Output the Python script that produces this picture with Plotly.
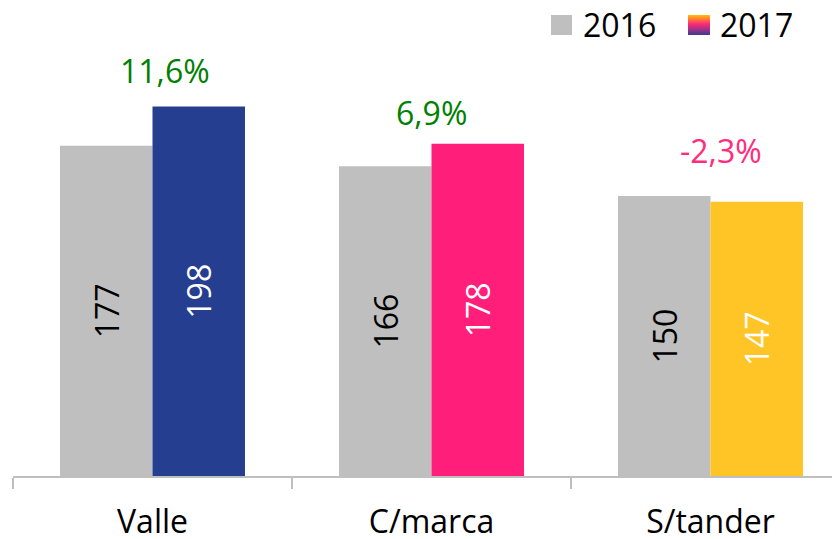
import base64
import plotly.graph_objects as go

categories = ["Valle", "C/marca", "S/tander"]
values_2016 = [177, 166, 150]
values_2017 = [198, 178, 147]
pct_labels = ["11,6%", "6,9%", "-2,3%"]
series_names = ["2016", "2017"]

FONT = "Open Sans"
FS = 32
GRAY = "#BFBFBF"
colors_2017 = ["#253E8F", "#FF1F7B", "#FFC425"]
pct_colors = ["#008000", "#008000", "#FF2D7D"]
pct_xshift = [12, 0, 10]
pct_yshift = [36, 31, 51]

# the page body adds an 8px offset; work in screen pixels and subtract it
OFF = 8
W, H = 840 - OFF, 539 - OFF
ML = 13 - OFF
MT = 0
AXIS_Y = 476 - OFF  # screen 476
MB = H - AXIS_Y
MR = 0
PW, PH = W - ML - MR, H - MT - MB
CAT_PX = 279.0
YMAX = PH / 1.866


def px(x):  # screen x -> paper
    return (x - OFF - ML) / PW


def py(y):  # screen y -> paper
    return (AXIS_Y - (y - OFF)) / PH


fig = go.Figure()
fig.add_trace(go.Bar(
    x=categories, y=values_2016, name=series_names[0],
    marker=dict(color=GRAY, line=dict(width=0)),
    text=[str(v) for v in values_2016], textposition="inside",
    insidetextanchor="middle", textangle=-90,
    textfont=dict(family=FONT, size=FS, color="black"),
    hoverinfo="skip", showlegend=False,
))
fig.add_trace(go.Bar(
    x=categories, y=values_2017, name=series_names[1],
    marker=dict(color=colors_2017, line=dict(width=0)),
    text=[str(v) for v in values_2017], textposition="inside",
    insidetextanchor="middle", textangle=-90,
    textfont=dict(family=FONT, size=FS, color="white"),
    hoverinfo="skip", showlegend=False,
))

annotations = []
for i, c in enumerate(categories):
    annotations.append(dict(
        x=c, y=values_2017[i], xref="x", yref="y", text=pct_labels[i],
        showarrow=False, xanchor="center", yanchor="middle",
        xshift=pct_xshift[i], yshift=pct_yshift[i],
        font=dict(family=FONT, size=FS, color=pct_colors[i]),
    ))

# legend (manual)
annotations.append(dict(x=px(581), y=py(25), xref="paper", yref="paper",
                        text=series_names[0], showarrow=False, xanchor="left",
                        yanchor="middle", font=dict(family=FONT, size=FS, color="black")))
annotations.append(dict(x=px(718), y=py(25), xref="paper", yref="paper",
                        text=series_names[1], showarrow=False, xanchor="left",
                        yanchor="middle", font=dict(family=FONT, size=FS, color="black")))

shapes = [dict(type="rect", xref="paper", yref="paper",
               x0=px(551), x1=px(572), y0=py(35), y1=py(15),
               fillcolor=GRAY, line=dict(width=0))]

svg = ("<svg xmlns='http://www.w3.org/2000/svg' width='22' height='20'>"
       "<defs><linearGradient id='g' x1='0' y1='0' x2='0' y2='1'>"
       "<stop offset='0' stop-color='#FFC000'/>"
       "<stop offset='0.45' stop-color='#FF2A78'/>"
       "<stop offset='1' stop-color='#3E3A94'/>"
       "</linearGradient></defs><rect width='22' height='20' fill='url(#g)'/></svg>")
src = "data:image/svg+xml;base64," + base64.b64encode(svg.encode()).decode()
images = [dict(source=src, xref="paper", yref="paper", x=px(688), y=py(15),
               sizex=px(710) - px(688), sizey=py(15) - py(35),
               xanchor="left", yanchor="top", sizing="stretch", layer="above")]

fig.update_layout(
    width=W, height=H,
    margin=dict(l=ML, r=MR, t=MT, b=MB, pad=0),
    paper_bgcolor="white", plot_bgcolor="white",
    barmode="group", bargap=0.337, bargroupgap=0,
    showlegend=False,
    annotations=annotations, shapes=shapes, images=images,
    uniformtext=dict(minsize=FS, mode="show"),
    xaxis=dict(
        range=[-0.5, -0.5 + PW / CAT_PX], type="category",
        showline=True, linecolor="#BFBFBF", linewidth=1.5,
        ticks="outside", tickson="boundaries", ticklen=11, tickwidth=1.5,
        tickcolor="#BFBFBF", showgrid=False, zeroline=False,
        tickfont=dict(family=FONT, size=FS, color="black"),
        ticklabelstandoff=17, fixedrange=True, automargin=False,
    ),
    yaxis=dict(range=[0, YMAX], visible=False, showgrid=False, fixedrange=True),
)

fig.write_html("out.html", config={"displayModeBar": False})
